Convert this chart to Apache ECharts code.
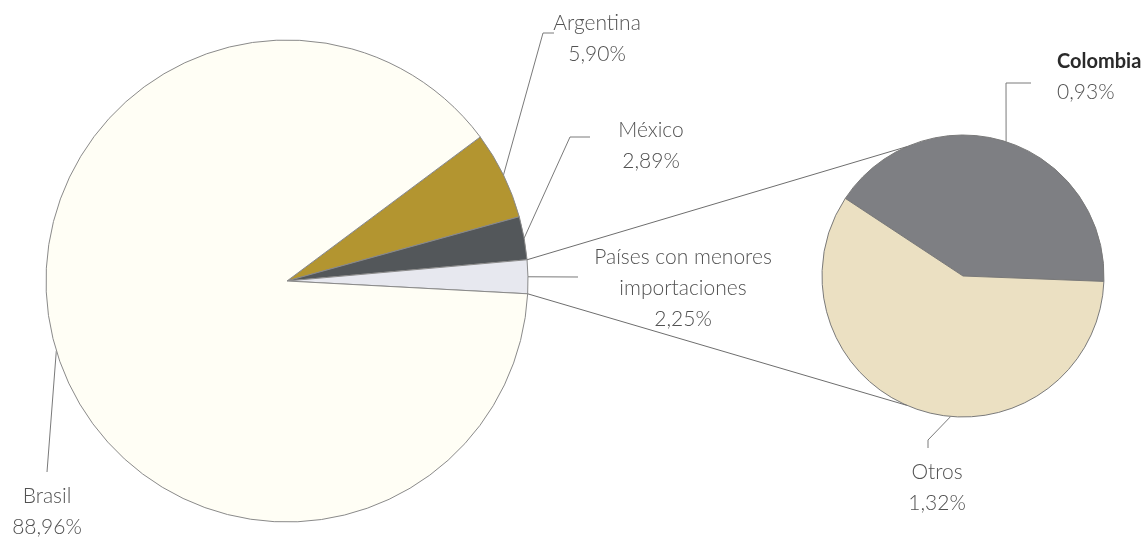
<!DOCTYPE html>
<html>
<head>
<meta charset="utf-8">
<script src="https://cdn.jsdelivr.net/npm/echarts@6/dist/echarts.min.js"></script>
<style>
  html, body { margin: 0; padding: 0; background: #ffffff; }
  #chart { width: 1142px; height: 540px; }
</style>
</head>
<body>
<div id="chart"></div>
<script>
// Import shares by country (%)
const mainNames = ['Argentina', 'México', 'Países con menores\nimportaciones', 'Brasil'];
const mainValues = [5.90, 2.89, 2.25, 88.96];
const mainColors = ['#b39530', '#53575a', '#e7e8ef', '#fffef5'];

// Breakdown of the "Países con menores importaciones" slice (%)
const subNames = ['Colombia', 'Otros'];
const subValues = [0.93, 1.32];
const subColors = ['#7e7f83', '#ebe0c2'];

// Pie geometry (pixels, degrees counter-clockwise from 3 o'clock)
const MAIN = { cx: 287, cy: 281, r: 241, start: 36.7 };
const SUB = { cx: 963, cy: 276, r: 141, start: 146.6 };
const LINK_ANGLE = 113.5;   // where the connector lines meet the small pie
const BREAKOUT = 2;         // index of the slice expanded into the small pie

// Label placement: text anchor plus the bend / end of each leader line
const mainLabelPos = [
  { x: 597, y: 39, align: 'center', pts: [[543, 33], [554, 33]] },
  { x: 651, y: 146, align: 'center', pts: [[570, 137], [590, 137]] },
  { x: 683, y: 288, align: 'center', pts: [[578, 277]] },
  { x: 47, y: 512, align: 'center', pts: [[47, 472]] }
];
const subLabelPos = [
  { x: 1057, y: 77, align: 'left', pts: [[1006, 83], [1031, 83]] },
  { x: 937, y: 488, align: 'center', anchor: 265, pts: [[928, 440], [928, 448]] }
];

function pointAt(p, deg) {
  const a = deg * Math.PI / 180;
  return [p.cx + p.r * Math.cos(a), p.cy - p.r * Math.sin(a)];
}

function sliceAngles(values, start) {
  const total = values.reduce((a, b) => a + b, 0);
  let acc = start;
  return values.map(v => {
    const s = acc;
    acc -= v / total * 360;
    return { s: s, e: acc, mid: (s + acc) / 2 };
  });
}

const mainAngles = sliceAngles(mainValues, MAIN.start);
const subAngles = sliceAngles(subValues, SUB.start);

function pct(v) { return v.toFixed(2).replace('.', ',') + '%'; }

const textBase = {
  fontFamily: 'Lato, "Noto Sans", sans-serif',
  fontWeight: 300,
  fontSize: 20,
  lineHeight: 31,
  color: '#525252'
};

const richStyles = {
  n: Object.assign({}, textBase, { fontSize: 21, letterSpacing: 0.3 }),
  v: Object.assign({}, textBase, { fontSize: 21, letterSpacing: 1.8 }),
  b: Object.assign({}, textBase, { fontWeight: 'bold', color: '#2a2a2a', fontSize: 20, letterSpacing: -0.5 })
};

function labelText(p) {
  const nameStyle = (p.seriesIndex === 1 && p.dataIndex === 0) ? 'b' : 'n';
  const lines = p.name.split('\n').map(s => '{' + nameStyle + '|' + s + '}');
  lines.push('{v|' + pct(p.value) + '}');
  return lines.join('\n');
}

function makeLayout(geom, angles, pos) {
  return function (params) {
    const cfg = pos[params.dataIndex];
    const ang = cfg.anchor != null ? cfg.anchor : angles[params.dataIndex].mid;
    const start = pointAt(geom, ang);
    return {
      x: cfg.x,
      y: cfg.y,
      align: cfg.align,
      verticalAlign: 'middle',
      labelLinePoints: [start].concat(cfg.pts)
    };
  };
}

const chart = echarts.init(document.getElementById('chart'), null, { renderer: 'canvas' });

const top1 = pointAt(MAIN, mainAngles[BREAKOUT].s);
const bot1 = pointAt(MAIN, mainAngles[BREAKOUT].e);
const top2 = pointAt(SUB, LINK_ANGLE);
const bot2 = pointAt(SUB, -LINK_ANGLE);

const labelBase = {
  show: true,
  position: 'outside',
  formatter: labelText,
  rich: richStyles
};

chart.setOption({
  animation: false,
  backgroundColor: '#ffffff',
  graphic: [
    { type: 'line', z: 100, silent: true,
      shape: { x1: top1[0], y1: top1[1], x2: top2[0], y2: top2[1] },
      style: { stroke: '#6e6e6e', lineWidth: 1 } },
    { type: 'line', z: 100, silent: true,
      shape: { x1: bot1[0], y1: bot1[1], x2: bot2[0], y2: bot2[1] },
      style: { stroke: '#6e6e6e', lineWidth: 1 } }
  ],
  series: [
    {
      type: 'pie',
      center: [MAIN.cx, MAIN.cy],
      radius: [0, MAIN.r],
      startAngle: MAIN.start,
      clockwise: true,
      avoidLabelOverlap: false,
      silent: true,
      data: mainNames.map((n, i) => ({
        name: n, value: mainValues[i], itemStyle: { color: mainColors[i] }
      })),
      itemStyle: { borderColor: '#8a8a8a', borderWidth: 1 },
      label: Object.assign({ align: 'center' }, labelBase),
      labelLine: { show: true, lineStyle: { color: '#7a7a7a', width: 1 } },
      labelLayout: makeLayout(MAIN, mainAngles, mainLabelPos)
    },
    {
      type: 'pie',
      center: [SUB.cx, SUB.cy],
      radius: [0, SUB.r],
      startAngle: SUB.start,
      clockwise: true,
      avoidLabelOverlap: false,
      silent: true,
      data: subNames.map((n, i) => ({
        name: n, value: subValues[i], itemStyle: { color: subColors[i] }
      })),
      itemStyle: { borderColor: '#7a7a7a', borderWidth: 1 },
      label: Object.assign({}, labelBase),
      labelLine: { show: true, lineStyle: { color: '#7a7a7a', width: 1 } },
      labelLayout: makeLayout(SUB, subAngles, subLabelPos)
    }
  ]
});
</script>
</body>
</html>
